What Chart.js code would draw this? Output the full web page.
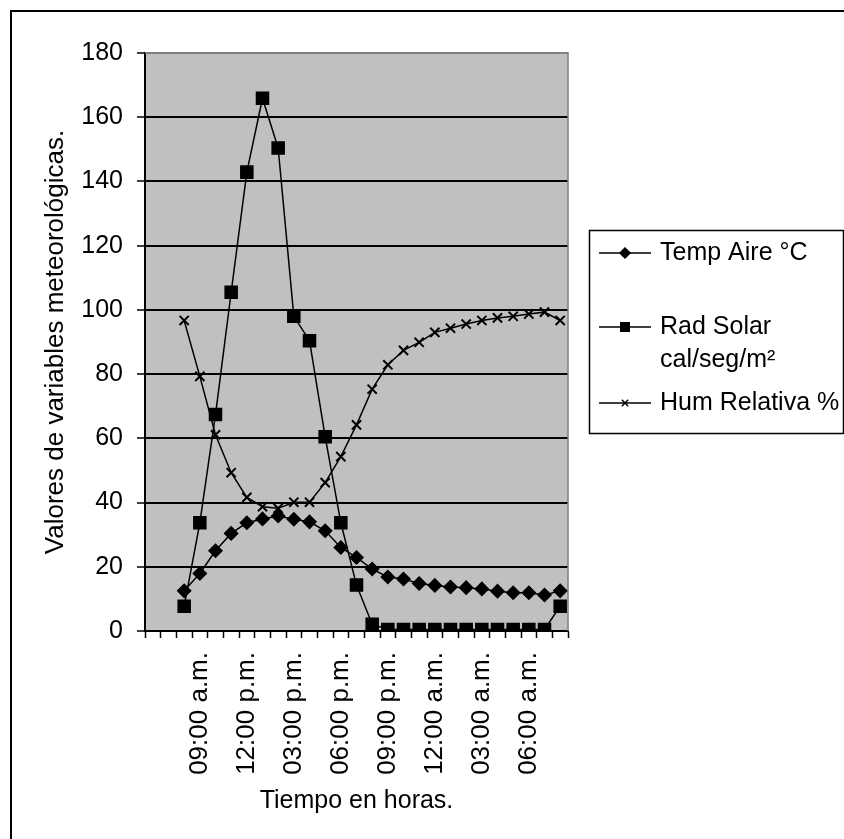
<!DOCTYPE html>
<html>
<head>
<meta charset="utf-8">
<script src="https://cdn.jsdelivr.net/npm/chart.js@4.4.1/dist/chart.umd.min.js"></script>
<style>
  html, body { margin: 0; padding: 0; background: #ffffff; }
  #wrap { width: 844px; height: 839px; }
</style>
</head>
<body>
<div id="wrap"><canvas id="chart" width="844" height="839"></canvas></div>
<script>
// Hourly readings (two empty leading slots on the time axis)
const hours = ['', '', '08:00 a.m.', '09:00 a.m.', '10:00 a.m.', '11:00 a.m.', '12:00 p.m.',
  '01:00 p.m.', '02:00 p.m.', '03:00 p.m.', '04:00 p.m.', '05:00 p.m.', '06:00 p.m.',
  '07:00 p.m.', '08:00 p.m.', '09:00 p.m.', '10:00 p.m.', '11:00 p.m.', '12:00 a.m.',
  '01:00 a.m.', '02:00 a.m.', '03:00 a.m.', '04:00 a.m.', '05:00 a.m.', '06:00 a.m.',
  '07:00 a.m.', '08:00 a.m.'];

const tempAire = [null, null, 12.5, 17.9, 25.0, 30.4, 33.7, 34.9, 35.8, 34.8, 34.0, 31.2, 26.0,
  22.9, 19.3, 16.8, 16.2, 14.8, 14.2, 13.7, 13.5, 13.1, 12.4, 11.9, 11.9, 11.2, 12.5];

const radSolar = [null, null, 7.7, 33.7, 67.4, 105.5, 142.9, 165.9, 150.4, 98.0, 90.4, 60.5, 33.7,
  14.3, 2.1, 0.5, 0.5, 0.5, 0.5, 0.5, 0.5, 0.5, 0.5, 0.5, 0.5, 0.5, 7.7];

const humRelativa = [null, null, 96.7, 79.3, 61.1, 49.3, 41.6, 38.7, 38.2, 40.1, 40.1, 46.2, 54.3,
  64.2, 75.3, 82.9, 87.4, 89.9, 93.0, 94.3, 95.6, 96.7, 97.5, 98.0, 98.7, 99.3, 96.7];

const seriesNames = ['Temp Aire °C', 'Rad Solar\ncal/seg/m²', 'Hum Relativa %'];
const yTicks = { min: 0, max: 180, step: 20 };
const labelEvery = 3;

const FONT = 'Liberation Sans, Arial, sans-serif';

// Grey plot background, outer frame and grey top/right plot edges
const frame = {
  id: 'frame',
  beforeDraw(chart) {
    const { ctx, chartArea: a } = chart;
    ctx.save();
    ctx.fillStyle = '#ffffff';
    ctx.fillRect(0, 0, chart.width, chart.height);
    ctx.fillStyle = '#c0c0c0';
    ctx.fillRect(a.left, a.top, a.right - a.left, a.bottom - a.top);
    ctx.strokeStyle = '#000000';
    ctx.lineWidth = 2;
    ctx.strokeRect(11, 11, chart.width + 20, chart.height + 20);
    ctx.restore();
  },
  beforeDatasetsDraw(chart) {
    const { ctx, chartArea: a } = chart;
    ctx.save();
    ctx.strokeStyle = '#808080';
    ctx.lineWidth = 1.5;
    ctx.beginPath();
    ctx.moveTo(a.left, a.top);
    ctx.lineTo(a.right, a.top);
    ctx.lineTo(a.right, a.bottom);
    ctx.stroke();
    ctx.restore();
  }
};

// Boxed legend on the right with wrapped entry text
const sideLegend = {
  id: 'sideLegend',
  afterDraw(chart) {
    const { ctx } = chart;
    const box = { x: 589, y: 230, w: 254, h: 203 };
    const rows = [253, 327, 403];
    const lineGap = 33;
    ctx.save();
    ctx.strokeStyle = '#000000';
    ctx.lineWidth = 1.5;
    ctx.strokeRect(box.x + 0.5, box.y + 0.5, box.w, box.h);
    chart.data.datasets.forEach((ds, i) => {
      const y = rows[i];
      ctx.strokeStyle = '#000000';
      ctx.lineWidth = 1.5;
      ctx.beginPath();
      ctx.moveTo(599, y);
      ctx.lineTo(651, y);
      ctx.stroke();
      ctx.fillStyle = '#000000';
      Chart.helpers.drawPoint(ctx, {
        pointStyle: ds.pointStyle,
        radius: ds.legendRadius,
        borderWidth: 1.5
      }, 625, y);
      ctx.fillStyle = '#000000';
      ctx.font = '25px ' + FONT;
      ctx.textBaseline = 'middle';
      ctx.textAlign = 'left';
      seriesNames[i].split('\n').forEach((t, k) => ctx.fillText(t, 660, y + k * lineGap));
    });
    ctx.restore();
  }
};

const common = {
  borderColor: '#000000',
  backgroundColor: '#000000',
  pointBorderColor: '#000000',
  pointBackgroundColor: '#000000',
  borderWidth: 1.5,
  pointBorderWidth: 1.5,
  tension: 0
};

new Chart(document.getElementById('chart'), {
  type: 'line',
  data: {
    labels: hours,
    datasets: [
      Object.assign({}, common, { label: seriesNames[0], data: tempAire, pointStyle: 'rectRot', pointRadius: 6.5, legendRadius: 5 }),
      Object.assign({}, common, { label: seriesNames[1], data: radSolar, pointStyle: 'rect', pointRadius: 8.5, legendRadius: 6 }),
      Object.assign({}, common, { label: seriesNames[2], data: humRelativa, pointStyle: 'crossRot', pointRadius: 6.5, pointBorderWidth: 2, legendRadius: 4.5, pointBackgroundColor: 'transparent' })
    ]
  },
  options: {
    responsive: false,
    animation: false,
    events: [],
    layout: { padding: { left: 0, top: 53, right: 276, bottom: 0 } },
    plugins: { legend: { display: false }, tooltip: { enabled: false } },
    scales: {
      x: {
        type: 'category',
        offset: true,
        afterFit(s) { s.height = 208; },
        grid: {
          offset: true,
          drawOnChartArea: false,
          drawTicks: true,
          tickLength: 7,
          tickColor: '#000000',
          tickWidth: 1.5
        },
        border: { display: true, color: '#000000', width: 2 },
        ticks: {
          autoSkip: false,
          minRotation: 90,
          maxRotation: 90,
          padding: 14,
          color: '#000000',
          font: { family: FONT, size: 26 },
          callback(value, index) { return index % labelEvery === 0 ? this.getLabelForValue(value) : ''; }
        },
        title: {
          display: true,
          text: 'Tiempo en horas.',
          color: '#000000',
          font: { family: FONT, size: 25 },
          padding: { top: 0, bottom: 23 }
        }
      },
      y: {
        min: yTicks.min,
        max: yTicks.max,
        afterFit(s) { s.width = 145; },
        grid: {
          color: (c) => (c.tick && c.tick.value === yTicks.max ? '#808080' : '#000000'),
          lineWidth: 2,
          drawTicks: true,
          tickLength: 8,
          tickColor: '#000000',
          tickWidth: 1.5
        },
        border: { display: true, color: '#000000', width: 2 },
        ticks: {
          stepSize: yTicks.step,
          padding: 14,
          color: '#000000',
          font: { family: FONT, size: 25 }
        },
        title: {
          display: true,
          text: 'Valores de variables meteorológicas.',
          color: '#000000',
          font: { family: FONT, size: 26 },
          padding: { top: 40, bottom: 0 }
        }
      }
    }
  },
  plugins: [frame, sideLegend]
});
</script>
</body>
</html>
